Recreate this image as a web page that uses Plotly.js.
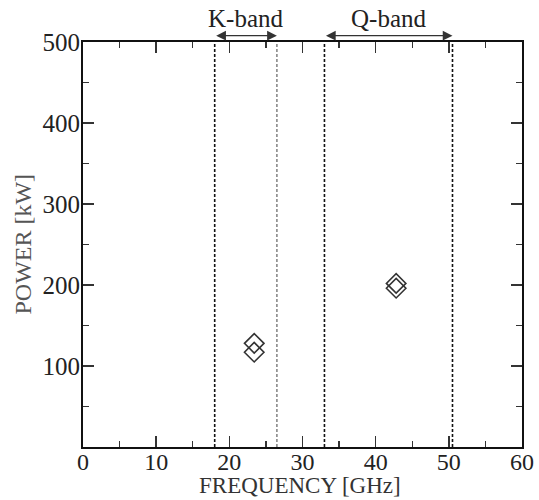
<!DOCTYPE html>
<html>
<head>
<meta charset="utf-8">
<script src="https://cdn.plot.ly/plotly-3.0.1.min.js"></script>
<style>html,body{margin:0;padding:0;background:#fff;}#chart{width:539px;height:500px;}</style>
</head>
<body>
<div id="chart"></div>
<script>
// Data
var frequency = [23.4, 23.4, 42.8, 42.8];      // GHz
var power = [128, 117, 202, 196];              // kW
var bandNames = ["K-band", "Q-band"];
var bandStart = [18, 33];                      // GHz
var bandEnd = [26.5, 50.5];                    // GHz
var bandLineColors = [["#111", "#888"], ["#111", "#111"]];
var xTickVals = [0, 10, 20, 30, 40, 50, 60];
var yTickVals = [100, 200, 300, 400, 500];

var FONT = "Liberation Serif, Times New Roman, serif";

var trace = {
  x: frequency, y: power, type: "scatter", mode: "markers",
  marker: {symbol: "diamond-open", size: 15, color: "#333", line: {width: 1.6, color: "#333"}},
  hoverinfo: "none", showlegend: false
};

var shapes = [];
var annotations = [];
for (var i = 0; i < bandNames.length; i++) {
  [bandStart[i], bandEnd[i]].forEach(function (xv, k) {
    shapes.push({type: "line", xref: "x", yref: "paper", x0: xv, x1: xv, y0: 0, y1: 1,
      line: {color: bandLineColors[i][k], width: 1.6, dash: "3px,2px"}});
  });
  annotations.push({
    xref: "x", yref: "paper", x: bandEnd[i], y: 1.0156,
    axref: "x", ayref: "pixel", ax: bandStart[i], ay: 0,
    showarrow: true, arrowhead: 2, startarrowhead: 2, arrowside: "end+start",
    arrowsize: 1.5, arrowwidth: 1.3, arrowcolor: "#333", text: ""
  });
  annotations.push({
    xref: "x", yref: "paper", x: (bandStart[i] + bandEnd[i]) / 2, y: 1.059,
    text: bandNames[i], showarrow: false, xanchor: "center", yanchor: "middle",
    font: {family: FONT, size: 25, color: "#222"}
  });
}
annotations.push({
  xref: "paper", yref: "paper", x: 0.495, y: -0.1284, yanchor: "bottom", xanchor: "center",
  text: "FREQUENCY [GHz]", showarrow: false, borderpad: 0,
  font: {family: FONT, size: 23, color: "#333"}
});
annotations.push({
  xref: "paper", yref: "paper", x: -0.1389, y: 0.5, yanchor: "middle", xanchor: "center",
  text: "POWER [kW]", textangle: -90, showarrow: false, font: {family: FONT, size: 24, color: "#555"}
});

var axisCommon = {
  showline: true, linecolor: "#111", linewidth: 2, mirror: "ticks",
  ticks: "inside", ticklen: 11, tickwidth: 1.5, tickcolor: "#333",
  showgrid: false, zeroline: false, fixedrange: true,
  tickfont: {family: FONT, size: 25, color: "#222"}
};

var layout = {
  width: 539, height: 500,
  margin: {l: 83, r: 17, t: 42, b: 53},
  paper_bgcolor: "#fff", plot_bgcolor: "#fff",
  xaxis: Object.assign({}, axisCommon, {range: [0, 60], tickmode: "array", tickvals: xTickVals,
    ticklabelstandoff: -8, tickfont: {family: FONT, size: 24, color: "#222"},
    minor: {ticks: "inside", ticklen: 6, tickwidth: 1.3, tickcolor: "#333", dtick: 5, tick0: 0}}),
  yaxis: Object.assign({}, axisCommon, {range: [0, 500], tickmode: "array", tickvals: yTickVals,
    ticklabelstandoff: -4,
    minor: {ticks: "inside", ticklen: 6, tickwidth: 1.3, tickcolor: "#333", dtick: 50, tick0: 0}}),
  shapes: shapes,
  annotations: annotations
};

Plotly.newPlot("chart", [trace], layout, {displayModeBar: false, staticPlot: true});
</script>
</body>
</html>
